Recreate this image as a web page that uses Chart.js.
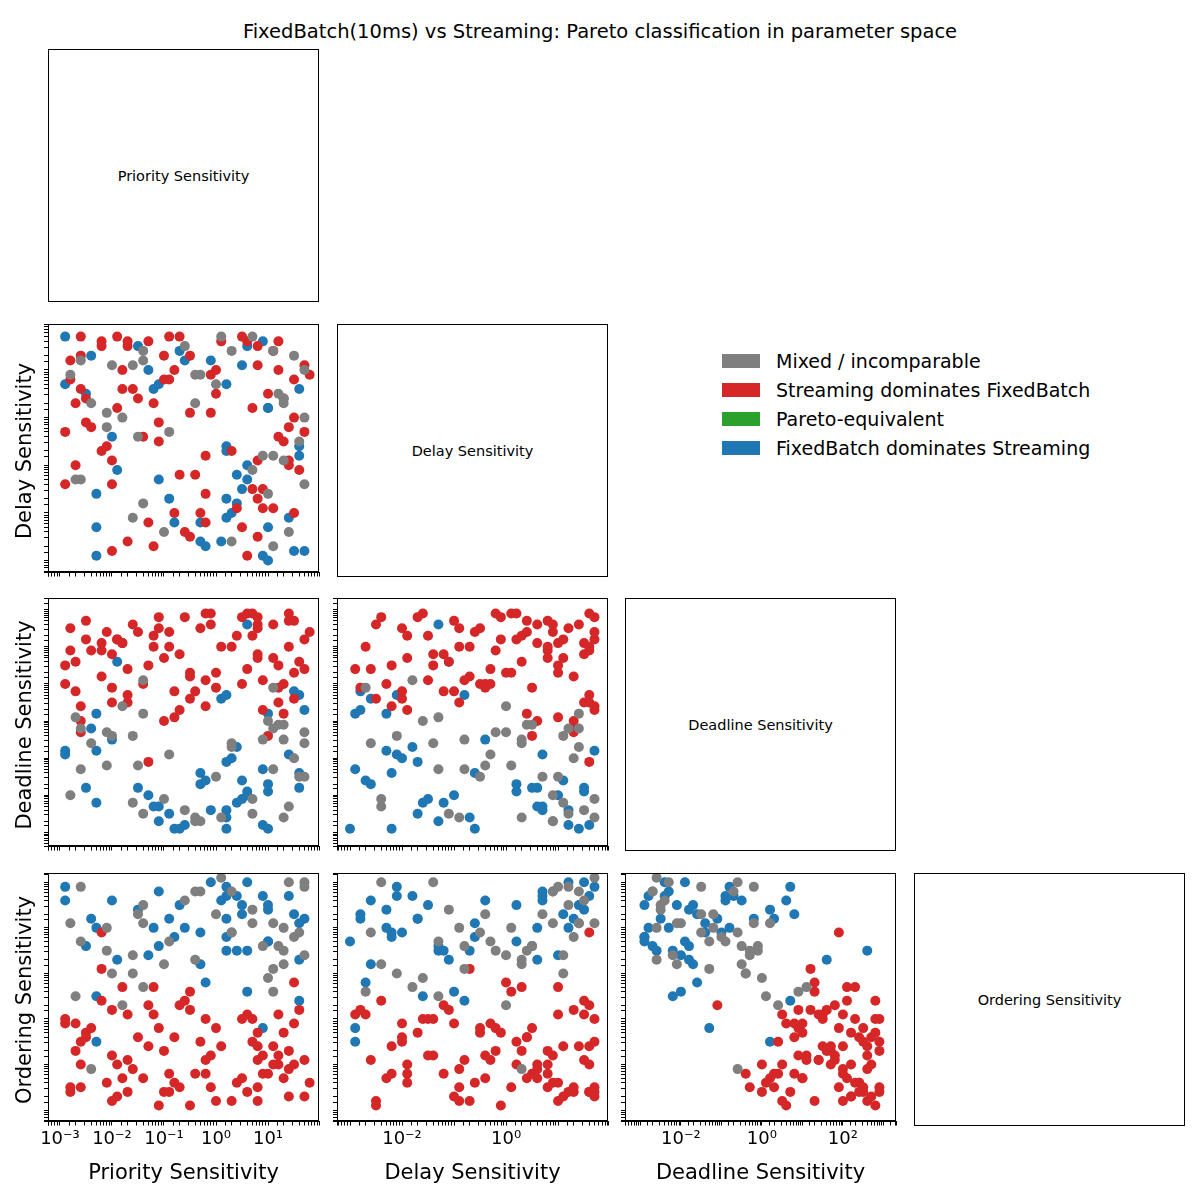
<!DOCTYPE html>
<html><head><meta charset="utf-8">
<script src="https://cdn.jsdelivr.net/npm/chart.js@4"></script>
<style>
body{margin:0;background:#fff;font-family:"DejaVu Sans",sans-serif;}
#wrap{position:relative;width:1200px;height:1200px;}
canvas{position:absolute;}
.diag{position:absolute;border:1px solid #000;box-sizing:border-box;display:flex;align-items:center;justify-content:center;font-size:14.5px;}
.xt{position:absolute;font-size:21px;text-align:center;width:300px;white-space:nowrap;}
.yt{position:absolute;font-size:21px;white-space:nowrap;transform:translate(-50%,-50%) rotate(-90deg);}
.leg{position:absolute;left:722px;font-size:19px;display:flex;align-items:center;}
.leg span{display:inline-block;width:38px;height:14px;margin-right:16px;}
</style></head><body><div id="wrap"></div>
<script>
const varNames=["Priority Sensitivity","Delay Sensitivity","Deadline Sensitivity","Ordering Sensitivity"];
const classNames=["Mixed / incomparable","Streaming dominates FixedBatch","Pareto-equivalent","FixedBatch dominates Streaming"];
const classColors=["#7f7f7f","#d62728","#2ca02c","#1f77b4"];
// log10 of sampled parameter values
const priorityLog=[-2.8,0.5,1.3,-1.7,-0.4,1.6,-2.2,0.9,-1.1,1.1, -0.2,-2.5,1.7,0.2,-1.4,-2.9,0.7,1.4,-0.8,-1.9, 0.0,-1.2,1.2,-2.6,0.6,-0.6,1.5,-2.0,0.3,-1.5, -2.3,0.8,-0.9,1.0,-1.8,0.1,-2.7,1.5,-0.3,-1.0, 1.3,-2.1,0.4,-1.3,1.7,-0.7,-2.4,0.9,-0.1,-1.6, 0.6,-2.9,1.2,-0.5,-1.4,1.4,-2.2,0.2,-0.9,1.0, -1.9,0.3,1.6,-0.3,-2.6,0.8,-1.2,1.1,-2.0,0.0, -1.1,1.3,-2.4,0.5,-0.6,1.7,-1.7,0.7,-2.8,-0.2, 1.5,-0.8,0.2,-2.1,1.0,-1.5,0.6,-0.4,1.4,-2.6, -1.0,0.4,1.2,-2.3,-0.1,1.6,-1.8,0.9,-0.7,-2.9, 0.1,-1.6,1.1,-0.5,1.7,-2.5,0.7,-1.3,1.3,-0.9, -2.0,0.3,1.5,-1.1,0.8,-2.7,-0.3,1.0,-1.4,0.5,
 -2.5,-1.3,0.2,1.4,-0.6,0.9,-2.1,1.8,-0.2,-1.7, 0.4,-2.8,1.1,-1.0,0.0,1.6,-1.9,0.7,-0.5,-2.3, 1.2,-0.8,-2.6,0.6,-1.5,1.5,-0.1,-2.0,0.9,-1.2, -0.4,1.0,-2.2,0.3,1.7,-1.6,0.8,-2.9,-0.7,1.3, 1.6,-1.1,0.5,-2.4,-0.3,1.1,-1.8,0.1,-2.6,0.8, -1.4,0.6,-2.7,1.4,-0.9,0.2,-2.0,1.0,-0.2,1.7];
const delayLog=[1.2,-1.5,0.3,-2.6,0.9,-0.8,1.6,-2.9,-0.1,1.4, -2.2,0.5,1.1,-0.6,-1.8,1.7,0.2,-2.4,1.0,-1.1, 0.7,-2.7,-0.4,1.3,-1.3,1.5,0.0,-0.9,-2.0,0.4, -1.6,1.1,-0.3,-2.3,0.6,1.7,-1.0,0.8,-2.6,1.3, -0.5,0.1,-1.9,1.0,-2.8,-1.2,0.3,1.6,0.9,-2.1, 1.5,-1.4,0.5,-2.5,1.2,-0.2,-0.7,-1.7,0.8,-3.0, 0.2,1.4,-1.1,-2.2,1.7,-0.9,0.6,-2.7,-0.4,1.0, -1.3,0.4,-0.2,1.1,-2.4,0.0,1.6,-1.5,0.9,-0.8, 1.3,-2.0,0.7,-0.6,-1.6,1.5,-2.9,0.3,-1.0,1.2, 0.8,-1.2,1.6,-2.3,0.1,-0.5,1.0,-1.9,1.4,-0.3, -2.6,0.6,-0.8,1.3,-1.4,-0.1,1.7,-2.2,0.4,-1.7, 1.1,-0.7,-2.8,0.7,1.5,-1.3,-2.0,0.2,-0.4,1.7,
 0.4,1.6,-2.1,-0.9,1.2,-1.5,-0.2,0.9,-2.7,1.5, -1.8,0.8,1.4,-2.4,0.5,-0.6,1.7,-1.1,0.1,-2.9, 1.0,-2.2,0.6,1.6,-0.4,-2.0,1.2,-1.4,-0.8,0.3, -1.2,0.2,1.5,-2.6,-0.3,1.1,-1.7,0.7,1.7,-0.9, 0.6,-0.5,-2.3,1.3,0.9,-1.9,0.0,1.6,-1.3,-2.5, 1.4,-1.0,0.3,-2.1,1.7,-0.7,-2.8,0.5,-1.6,1.0];
const deadlineLog=[2.5,-2.1,-0.5,1.4,-2.7,0.7,1.9,-1.3,2.8,-0.2, 0.4,-1.8,2.2,-2.9,1.1,-0.8,2.9,-2.3,0.1,1.6, -1.5,2.0,0.9,-0.3,2.6,-2.4,1.3,0.5,-1.0,2.4, -2.2,1.7,-0.9,0.2,2.1,-2.6,0.8,2.7,-1.7,0.0, 1.0,-1.2,2.3,-2.0,0.3,1.8,-0.6,-2.8,2.6,-0.4, -1.9,1.5,-0.1,0.6,-2.5,2.9,1.2,-1.1,2.0,-2.9, 2.2,-0.7,1.6,-1.4,0.4,2.5,-2.3,0.9,-0.5,1.3, -2.7,0.2,1.9,-1.6,2.8,-0.3,0.7,2.3,-2.0,1.1, -1.0,0.8,-2.4,2.4,0.0,-1.8,1.4,-2.6,2.7,-0.2, 1.7,-2.2,0.5,-0.8,2.9,-1.5,2.1,0.3,-2.9,1.0, 0.6,2.6,-1.3,1.2,-0.6,2.2,-2.1,1.5,-0.1,-2.5, -0.4,2.0,0.8,-2.3,1.8,0.1,2.5,-1.9,1.0,2.8,
 2.7,-1.1,0.7,2.0,-2.8,1.1,-0.3,2.4,-1.6,0.5, -0.7,1.9,2.6,-2.1,0.9,-1.4,2.2,-2.5,1.3,0.2, 1.5,-2.9,0.0,2.9,-1.2,0.6,-2.4,1.8,-0.5,2.3, 0.8,-1.7,2.1,-0.6,1.4,-2.2,2.8,-0.9,0.3,-2.6, -1.8,2.5,1.0,-0.2,-2.7,1.7,0.4,2.0,-1.3,2.6, 0.2,-2.0,1.6,-0.9,2.4,-2.6,0.9,-0.4,2.9,-1.5];
const orderingLog=[-2.6,1.5,0.2,-1.9,1.8,-0.6,0.9,-1.2,-2.9,1.1, -2.2,0.6,-2.7,0.8,-0.3,1.9,-1.5,2.0,-2.4,0.3, 1.3,-0.9,-1.8,-2.5,0.5,1.6,-0.2,-2.8,0.9,-1.4, -0.5,-1.6,0.7,1.4,-2.3,2.1,-1.1,-2.0,0.2,-2.6, -1.3,1.0,-2.4,0.4,1.2,-0.7,-2.1,1.7,-1.8,0.0, 2.0,-1.0,0.6,-2.9,1.5,-1.7,0.1,1.2,-2.2,0.7, -2.0,1.8,-0.8,0.9,-1.5,-2.5,1.0,-0.4,1.6,-2.8, 0.6,-2.3,-1.2,1.3,-0.6,0.4,-2.6,-1.0,1.1,-1.9, 0.8,-1.4,1.7,-2.4,-0.1,1.4,-0.9,0.3,-2.7,1.9, -1.7,0.5,-2.0,1.0,-2.5,0.9,-0.3,-2.2,1.5,-1.1, 1.6,-2.1,0.1,-0.8,2.0,-1.3,1.1,-1.6,0.5,1.2, 0.0,-2.8,1.3,1.8,-1.9,-0.5,-1.5,0.7,-2.3,-1.0,
 -1.4,-0.7,1.9,-2.1,1.0,-1.8,0.5,-2.4,-0.2,-0.9, 1.7,-2.5,-1.6,0.2,-1.2,1.1,-2.7,1.4,-0.4,-1.5, -0.9,0.8,-2.0,-2.6,1.3,-1.1,2.0,-1.8,0.6,-0.3, -2.2,1.5,-0.6,0.9,-1.9,0.4,-1.3,1.6,-2.5,1.0, 0.3,-1.2,-2.3,1.2,1.8,-2.0,-0.7,-1.6,0.7,-2.8, 1.1,-0.4,-1.7,1.7,-2.6,0.5,-0.8,-2.2,-1.0,1.9];
// 0 mixed, 1 streaming dominates, 2 pareto-equivalent, 3 fixedbatch dominates
const sampleClass=[1,3,0,1,0,3,1,3,1,0, 1,3,1,3,0,3,1,0,1,3, 0,1,1,1,3,0,1,1,3,1, 3,1,0,3,1,0,1,1,3,1, 1,0,1,3,3,1,0,3,1,0, 3,1,0,1,0,1,1,3,1,3, 1,0,1,3,1,1,3,0,3,1, 3,1,1,3,1,0,1,1,0,1, 0,1,3,1,0,3,1,0,1,0, 1,3,1,3,1,0,1,1,3,1, 3,1,0,1,0,1,0,1,0,3, 0,1,3,3,1,0,1,3,1,1,
 1,1,3,1,3,1,0,1,3,1, 3,1,1,0,1,3,1,0,1,3, 1,3,1,1,0,1,3,1,0,1, 1,3,1,0,1,0,1,3,1,0, 3,1,1,3,0,1,0,1,0,1, 0,3,1,3,1,3,1,1,1,0];
const axisLimits=[[-3.23,1.98],[-3.25,1.96],[-3.38,3.31],[-3.25,2.2]];
const xTickLabels=[[-3,-2,-1,0,1],[-2,0],[-2,0,2],[]];
const vals=[priorityLog,delayLog,deadlineLog,orderingLog];

const colLeft=[48,337,625,914], rowTop=[49,324,598,873], PW=271, PH=253;
const wrap=document.getElementById('wrap');
const sup={'-':'⁻','0':'⁰','1':'¹','2':'²','3':'³','4':'⁴','5':'⁵'};
const fmt=e=>'10'+String(e).split('').map(c=>sup[c]).join('');
const frame={id:'frame',afterDraw(c){const a=c.chartArea,x=c.ctx;x.save();x.strokeStyle='#000';x.lineWidth=1;x.strokeRect(Math.round(a.left)+0.5,Math.round(a.top)+0.5,Math.round(a.right-a.left)-1,Math.round(a.bottom-a.top)-1);x.restore();}};

function div(cls,html,st){const d=document.createElement('div');d.className=cls;d.innerHTML=html;Object.assign(d.style,st);wrap.appendChild(d);return d;}
div('xt','FixedBatch(10ms) vs Streaming: Pareto classification in parameter space',{left:'100px',top:'20px',width:'1000px',fontSize:'19.5px'});

for(let r=0;r<4;r++){
  div('diag',varNames[r],{left:colLeft[r]+'px',top:rowTop[r]+'px',width:PW+'px',height:PH+'px'});
  for(let c=0;c<r;c++){
    const cv=document.createElement('canvas');
    let W=PW+60,H=PH+60;
    cv.width=W;cv.height=H;
    cv.style.left=(colLeft[c]-45)+'px';cv.style.top=(rowTop[r]-5)+'px';
    wrap.appendChild(cv);
    const datasets=[0,1,2,3].map(k=>({label:classNames[k],backgroundColor:classColors[k],borderColor:classColors[k],pointRadius:5,borderWidth:0,
      data:sampleClass.map((s,i)=>s===k?{x:10**vals[c][i],y:10**vals[r][i]}:null).filter(Boolean)}));
    const labs=xTickLabels[c];
    const ch=new Chart(cv,{type:'scatter',data:{datasets},plugins:[frame],options:{
      responsive:false,animation:false,devicePixelRatio:1,
      layout:{padding:{top:0,right:0,left:0,bottom:0}},
      plugins:{legend:{display:false},tooltip:{enabled:false}},
      scales:{
        x:{type:'logarithmic',min:10**axisLimits[c][0],max:10**axisLimits[c][1],
          afterFit:s=>{s.height=45;},
          border:{display:true,color:'#000'},
          grid:{display:true,drawOnChartArea:false,tickLength:4,color:'#000'},
          ticks:{autoSkip:false,maxRotation:0,color:'#000',font:{size:18,family:'DejaVu Sans'},
            callback:v=>{if(r!==3)return '';const e=Math.round(Math.log10(v));return (Math.abs(Math.log10(v)-e)<1e-6&&labs.includes(e))?fmt(e):'';}}},
        y:{type:'logarithmic',min:10**axisLimits[r][0],max:10**axisLimits[r][1],
          afterFit:s=>{s.width=45;},
          border:{display:true,color:'#000'},
          grid:{display:true,drawOnChartArea:false,tickLength:4,color:'#000'},
          ticks:{autoSkip:false,callback:()=>''}}
      }}});
    for(let it=0;it<2;it++){
      const a=ch.chartArea;
      W+=PW-(a.right-a.left); H+=PH-(a.bottom-a.top);
      ch.resize(Math.round(W),Math.round(H));
    }
    const a=ch.chartArea;
    cv.style.left=(colLeft[c]-a.left)+'px'; cv.style.top=(rowTop[r]-a.top)+'px';
  }
}
for(let c=0;c<3;c++){ div('xt',varNames[c],{left:(colLeft[c]+PW/2-150)+'px',top:'1160px'}); }
for(let r=1;r<4;r++){ div('yt',varNames[r],{left:'24px',top:(rowTop[r]+PH/2)+'px'}); }
const ly=[350,379,408,437];
for(let k=0;k<4;k++){ div('leg','<span style="background:'+classColors[k]+'"></span>'+classNames[k],{top:ly[k]+'px'}); }
</script></body></html>
